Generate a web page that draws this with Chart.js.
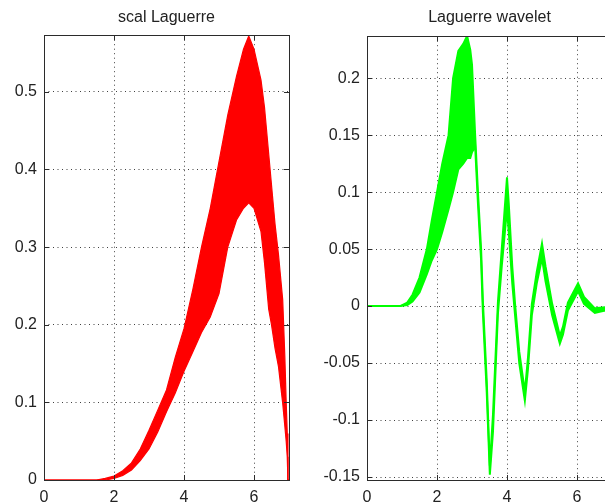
<!DOCTYPE html>
<html>
<head>
<meta charset="utf-8">
<script src="https://cdn.jsdelivr.net/npm/chart.js@4.4.1/dist/chart.umd.min.js"></script>
<style>
  html, body { margin: 0; padding: 0; background: #fff; overflow: hidden; width: 605px; height: 504px; }
  #wrap { position: relative; width: 605px; height: 504px; overflow: hidden; }
  canvas { position: absolute; top: 0; }
  #left-chart { left: 0; }
  #right-chart { left: 300px; }
</style>
</head>
<body>
<div id="wrap">
  <canvas id="left-chart" width="300" height="504"></canvas>
  <canvas id="right-chart" width="330" height="504"></canvas>
</div>
<script>
// x ticks shared by both panels
const xTicks = [0, 2, 4, 6];
const xTickLabels = ['0', '2', '4', '6'];

// scal Laguerre — envelope of the dense red oscillation
const scalX     = [0, 1.5, 1.75, 2, 2.25, 2.5, 2.75, 3, 3.25, 3.5, 3.75, 4, 4.25, 4.5, 4.75, 5, 5.25, 5.5, 5.7, 5.85, 6, 6.2, 6.3, 6.42, 6.5, 6.6, 6.7, 6.82, 6.88, 6.92, 6.95, 6.97, 7];
const scalUpper = [0, 0, 0.002, 0.005, 0.012, 0.022, 0.04, 0.064, 0.09, 0.116, 0.158, 0.195, 0.245, 0.3, 0.35, 0.41, 0.47, 0.52, 0.555, 0.572, 0.555, 0.515, 0.48, 0.42, 0.38, 0.33, 0.29, 0.232, 0.16, 0.1, 0.06, 0, 0];
const scalLower = [0, 0, 0, 0.002, 0.006, 0.013, 0.025, 0.04, 0.062, 0.088, 0.112, 0.14, 0.165, 0.19, 0.21, 0.24, 0.3, 0.335, 0.35, 0.357, 0.35, 0.32, 0.28, 0.22, 0.2, 0.17, 0.146, 0.099, 0.07, 0.05, 0.03, 0, 0];
const scalYTicks = [0, 0.1, 0.2, 0.3, 0.4, 0.5];
const scalYLabels = ['0', '0.1', '0.2', '0.3', '0.4', '0.5'];

// Laguerre wavelet — envelope of the green trace
const wavX     = [0, 0.95, 1.15, 1.3, 1.5, 1.71, 1.85, 2.0, 2.15, 2.33, 2.46, 2.61, 2.75, 2.86, 2.95, 3.0, 3.09, 3.17, 3.26, 3.31, 3.42, 3.51, 3.6, 3.74, 3.85, 4.0, 4.05, 4.15, 4.23, 4.35, 4.51, 4.6, 4.71, 4.85, 5.0, 5.1, 5.29, 5.51, 5.6, 5.74, 6.03, 6.2, 6.51, 6.8, 7.0];
const wavUpper = [0, 0, 0.003, 0.01, 0.025, 0.05, 0.075, 0.1, 0.125, 0.15, 0.2, 0.224, 0.23, 0.237, 0.225, 0.212, 0.15, 0.1, 0.05, 0.005, -0.065, -0.14, -0.095, 0.003, 0.05, 0.113, 0.09, 0.035, 0.002, -0.04, -0.075, -0.045, 0.002, 0.03, 0.055, 0.035, 0.002, -0.026, -0.018, 0.003, 0.02, 0.008, -0.002, -0.001, -0.001];
const wavLower = [0, 0, 0.001, 0.004, 0.012, 0.028, 0.04, 0.05, 0.065, 0.085, 0.1, 0.12, 0.125, 0.13, 0.13, 0.135, 0.14, 0.09, 0.04, -0.005, -0.075, -0.148, -0.11, -0.007, 0.035, 0.085, 0.065, 0.02, -0.008, -0.05, -0.083, -0.055, -0.008, 0.02, 0.042, 0.022, -0.008, -0.033, -0.025, -0.004, 0.013, 0.002, -0.006, -0.004, -0.003];
const wavYTicks = [-0.15, -0.1, -0.05, 0, 0.05, 0.1, 0.15, 0.2];
const wavYLabels = ['-0.15', '-0.1', '-0.05', '0', '0.05', '0.1', '0.15', '0.2'];

const FONT = { family: '"Liberation Sans", Arial, sans-serif', size: 16 };
const INK = '#222';

// MATLAB-style box with inward tick marks on all four sides
const matlabAxesPlugin = {
  id: 'matlabAxes',
  afterDatasetsDraw(chart) {
    const { ctx, chartArea: a, scales } = chart;
    ctx.save();
    ctx.strokeStyle = '#2b2b2b';
    ctx.lineWidth = 1;
    ctx.beginPath();
    for (const t of scales.x.ticks) {
      const px = Math.round(scales.x.getPixelForValue(t.value)) + 0.5;
      ctx.moveTo(px, a.bottom); ctx.lineTo(px, a.bottom - 5);
      ctx.moveTo(px, a.top); ctx.lineTo(px, a.top + 5);
    }
    for (const t of scales.y.ticks) {
      const py = Math.round(scales.y.getPixelForValue(t.value)) + 0.5;
      ctx.moveTo(a.left, py); ctx.lineTo(a.left + 5, py);
      ctx.moveTo(a.right, py); ctx.lineTo(a.right - 5, py);
    }
    ctx.stroke();
    ctx.strokeRect(Math.round(a.left) + 0.5, Math.round(a.top) + 0.5,
      Math.round(a.right - a.left), Math.round(a.bottom - a.top));
    ctx.restore();
  }
};

function makeChart(id, opts) {
  const upperPts = opts.xs.map((x, i) => ({ x, y: opts.upper[i] }));
  const lowerPts = opts.xs.map((x, i) => ({ x, y: opts.lower[i] }));
  return new Chart(document.getElementById(id), {
    type: 'line',
    plugins: [matlabAxesPlugin],
    data: {
      datasets: [
        { data: upperPts, borderColor: opts.color, borderWidth: opts.lineW, pointRadius: 0, tension: 0, fill: false },
        { data: lowerPts, borderColor: opts.color, borderWidth: opts.lineW, pointRadius: 0, tension: 0,
          fill: '-1', backgroundColor: opts.color }
      ]
    },
    options: {
      responsive: false,
      devicePixelRatio: 1,
      animation: false,
      events: [],
      layout: { padding: { left: 0, right: opts.padRight, top: 0, bottom: 0 } },
      plugins: {
        legend: { display: false },
        tooltip: { enabled: false },
        title: {
          display: true,
          text: opts.title,
          fullSize: false,
          color: INK,
          font: { ...FONT, weight: 'normal' },
          padding: { top: 8, bottom: opts.titleGap }
        }
      },
      scales: {
        x: {
          type: 'linear',
          min: 0,
          max: 7,
          afterFit: (s) => { s.height = 24; },
          afterBuildTicks: (s) => { s.ticks = xTicks.map(v => ({ value: v })); },
          ticks: {
            color: INK, font: FONT, padding: 8, autoSkip: false, maxRotation: 0,
            callback: (v, i) => xTickLabels[i]
          },
          grid: { color: 'rgba(0,0,0,0.75)', lineWidth: 1, drawTicks: false },
          border: { display: false, dash: [1, 3.5] }
        },
        y: {
          type: 'linear',
          min: opts.yMin,
          max: opts.yMax,
          afterFit: (s) => { s.width = opts.axisW; },
          afterBuildTicks: (s) => { s.ticks = opts.yTicks.map(v => ({ value: v })); },
          ticks: {
            color: INK, font: FONT, padding: 7, autoSkip: false,
            callback: (v, i) => opts.yLabels[i]
          },
          grid: { color: 'rgba(0,0,0,0.75)', lineWidth: 1, drawTicks: false },
          border: { display: false, dash: [1, 3.5] }
        }
      }
    }
  });
}

makeChart('left-chart', {
  title: 'scal Laguerre', xs: scalX, upper: scalUpper, lower: scalLower, color: '#ff0000',
  yMin: 0, yMax: 0.573, yTicks: scalYTicks, yLabels: scalYLabels,
  axisW: 44, padRight: 11, titleGap: 8, lineW: 1.2
});

makeChart('right-chart', {
  title: 'Laguerre wavelet', xs: wavX, upper: wavUpper, lower: wavLower, color: '#00ff00',
  yMin: -0.1526, yMax: 0.2368, yTicks: wavYTicks, yLabels: wavYLabels,
  axisW: 67, padRight: 18, titleGap: 9, lineW: 2
});
</script>
</body>
</html>
